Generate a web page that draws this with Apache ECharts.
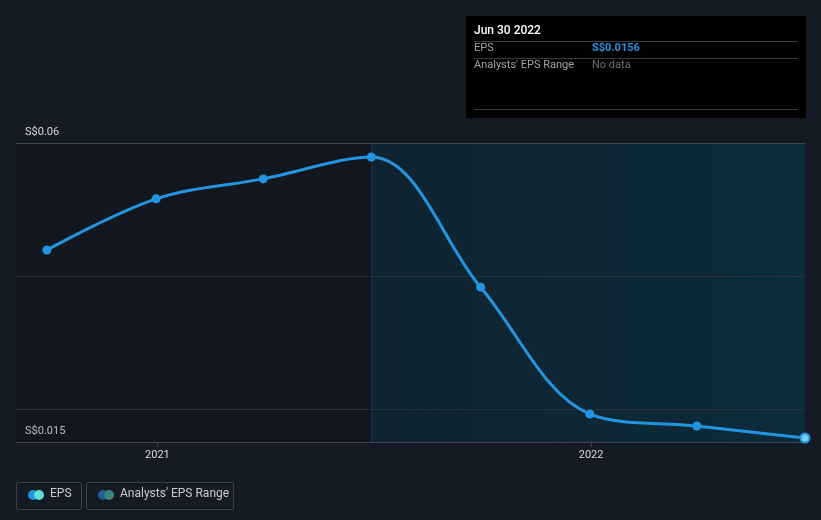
<!DOCTYPE html>
<html><head><meta charset="utf-8">
<script src="https://cdn.jsdelivr.net/npm/echarts@6/dist/echarts.min.js"></script>
<style>html,body{margin:0;padding:0;background:#151b24}#c{width:821px;height:520px}</style>
</head><body><div id="c"></div>
<script>
const dates = ['2020-09-30','2020-12-31','2021-03-31','2021-06-30','2021-09-30','2021-12-31','2022-03-31','2022-06-30'];
const eps = [0.0439, 0.0516, 0.0546, 0.0579, 0.0383, 0.0192, 0.0174, 0.0156];
const yearTicks = ['2021-01-01','2022-01-01'];
const yLabels = [0.015, 0.06];
const gridValues = [0.02, 0.04, 0.06];
const forecastStart = '2021-06-30';
const xStart = '2020-09-04';

const t = s => { const [y,m,d] = s.split('-').map(Number); return Date.UTC(y, m-1, d); };
const xMin = t(xStart), xMax = t(dates[dates.length-1]);
const data = dates.map((d,i) => {
  const p = [t(d), eps[i]];
  if (i === dates.length-1) return {value: p, itemStyle: {color: '#7cc6f2', borderColor: '#2394df', borderWidth: 2}};
  return p;
});
const font = 'Roboto, "Open Sans", sans-serif';
const chart = echarts.init(document.getElementById('c'), null, {renderer: 'canvas'});
chart.setOption({
  backgroundColor: '#151b24',
  animation: false,
  grid: {left: 16, right: 16, top: 143, bottom: 78},
  xAxis: {
    type: 'value', min: xMin, max: xMax,
    axisLine: {show: true, lineStyle: {color: '#3b424c', width: 1}},
    axisTick: {show: true, customValues: yearTicks.map(t), length: 5, lineStyle: {color: '#3b424c'}},
    axisLabel: {customValues: yearTicks.map(t), color: '#d6d9dd', fontSize: 11, fontFamily: font, margin: 8,
      formatter: v => String(new Date(v).getUTCFullYear())},
    splitLine: {show: false}
  },
  yAxis: {
    type: 'value', min: 0.015, max: 0.06,
    axisLine: {show: false}, axisTick: {show: false}, splitLine: {show: false},
    axisLabel: {customValues: yLabels, inside: true, color: '#d6d9dd', fontSize: 11, fontFamily: font,
      verticalAlign: 'bottom', margin: 9, padding: [0,0,5,0],
      formatter: v => 'S$' + v}
  },
  series: [{
    type: 'line', data: data, smooth: 0.35,
    symbol: 'circle', symbolSize: 9, showSymbol: true,
    lineStyle: {color: '#2394df', width: 3},
    itemStyle: {color: '#2394df'},
    z: 5,
    markLine: {
      silent: true, symbol: 'none', label: {show: false},
      data: gridValues.map(v => ({yAxis: v, lineStyle: {color: v === 0.06 ? '#3d444e' : '#2a313a', width: 1, type: 'solid'}}))
        .concat([{xAxis: t(forecastStart), lineStyle: {color: '#173545', width: 1, type: 'solid'}}])
    },
    markArea: {
      silent: true,
      data: [
        [{xAxis: xMin, itemStyle: {color: 'rgba(0,0,0,0.13)'}}, {xAxis: t(forecastStart)}],
        [{xAxis: t(forecastStart), yAxis: 0.06,
          itemStyle: {color: new echarts.graphic.LinearGradient(0,0,1,0,[{offset:0,color:'#0f2330'},{offset:1,color:'#0c2b3b'}])},
          label: {show: true, position: 'insideTopRight', formatter: 'Actual', color: '#e6e8ea', fontSize: 11, fontFamily: font, distance: [8, 6]}},
         {xAxis: xMax, yAxis: 0.015}]
      ]
    }
  }],
  graphic: [
    {type: 'rect', left: 466, top: 16, shape: {width: 340, height: 102}, style: {fill: '#000000'}, z: 10},
    {type: 'text', left: 474, top: 25, style: {text: 'Jun 30 2022', fill: '#ffffff', font: '500 12px ' + font}, z: 11},
    {type: 'line', shape: {x1: 474, y1: 41.5, x2: 798, y2: 41.5}, style: {stroke: '#3a3a3a', lineWidth: 1}, z: 11},
    {type: 'text', left: 474, top: 43, style: {text: 'EPS', fill: '#a0a4a8', font: '11px ' + font}, z: 11},
    {type: 'text', left: 592, top: 43, style: {text: 'S$0.0156', fill: '#2394df', font: 'bold 11px ' + font}, z: 11},
    {type: 'line', shape: {x1: 474, y1: 58.5, x2: 798, y2: 58.5}, style: {stroke: '#3a3a3a', lineWidth: 1}, z: 11},
    {type: 'text', left: 474, top: 60, style: {text: "Analysts' EPS Range", fill: '#a0a4a8', font: '11px ' + font}, z: 11},
    {type: 'text', left: 592, top: 60, style: {text: 'No data', fill: '#6e7276', font: '11px ' + font}, z: 11},
    {type: 'line', shape: {x1: 474, y1: 109.5, x2: 798, y2: 109.5}, style: {stroke: '#3a3a3a', lineWidth: 1}, z: 11},
    // legend
    {type: 'rect', shape: {x: 16.5, y: 482.5, width: 65, height: 27, r: 2}, style: {fill: 'none', stroke: '#3c434d', lineWidth: 1}, z: 10},
    {type: 'circle', shape: {cx: 33, cy: 495, r: 5}, style: {fill: '#2394df'}, z: 11},
    {type: 'circle', shape: {cx: 39, cy: 495, r: 5}, style: {fill: '#5ce0d8'}, z: 12},
    {type: 'text', left: 50, top: 488, style: {text: 'EPS', fill: '#c8ccd0', font: '12px ' + font}, z: 11},
    {type: 'rect', shape: {x: 86.5, y: 482.5, width: 147, height: 27, r: 2}, style: {fill: 'none', stroke: '#3c434d', lineWidth: 1}, z: 10},
    {type: 'circle', shape: {cx: 103, cy: 495, r: 5}, style: {fill: '#1f5f8f'}, z: 11},
    {type: 'circle', shape: {cx: 109, cy: 495, r: 5}, style: {fill: '#3b8580'}, z: 12},
    {type: 'text', left: 120, top: 488, style: {text: "Analysts' EPS Range", fill: '#c8ccd0', font: '12px ' + font}, z: 11}
  ]
});
</script></body></html>
